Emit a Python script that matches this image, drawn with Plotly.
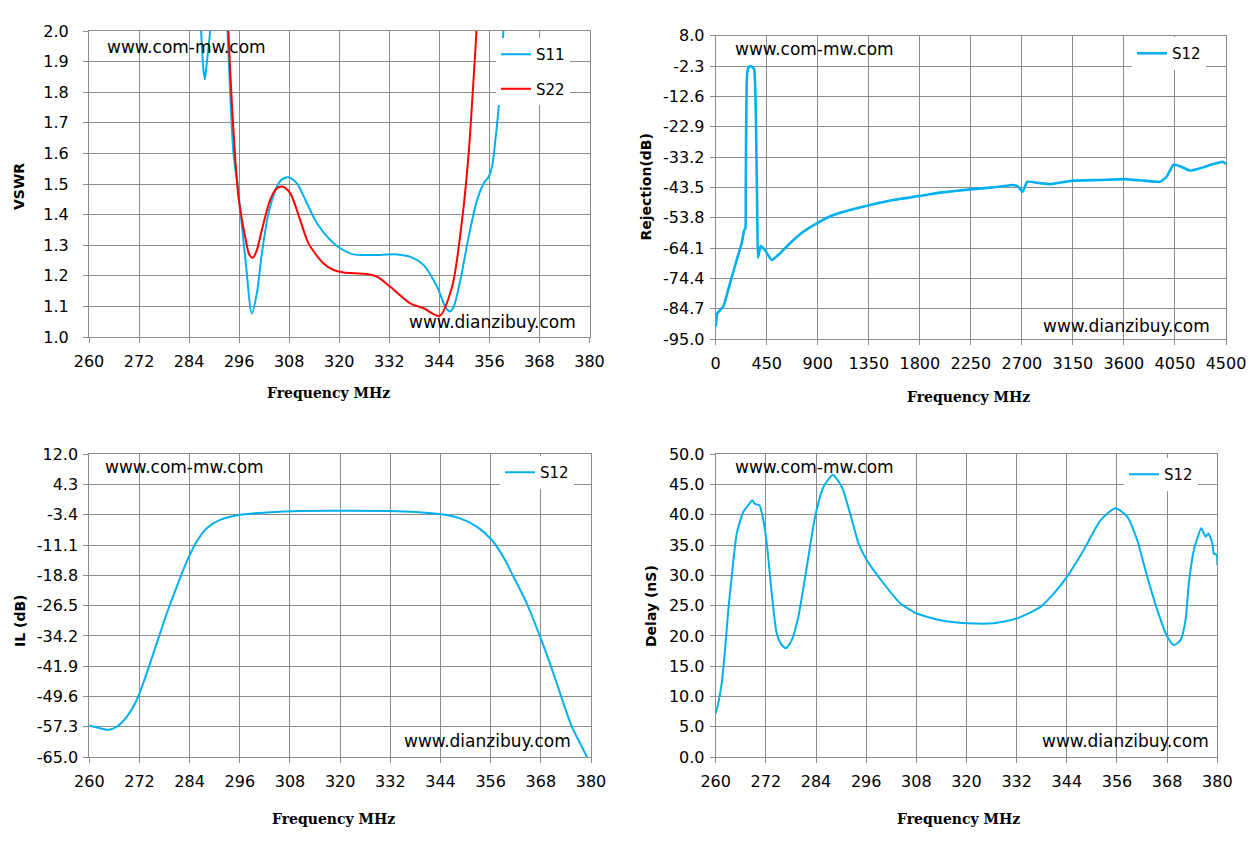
import plotly.graph_objects as go

# ---------------- data ----------------
# VSWR (top-left)
vswr_s11_freq = [285.9, 286.88, 287.4, 287.77, 288.2, 289.04, 290.0, 291.5, 292.4, 293.2,
                 294.63, 295.69, 297.6, 299.05, 300.25, 301.45, 303.03, 305.05, 306.25, 307.83,
                 309.85, 312.25, 314.65, 317.84, 320.24, 323.43, 328.23, 333.85, 337.04, 340.23,
                 343.45, 345.44, 346.47, 347.43, 349.04, 351.03, 353.05, 354.63, 355.83, 356.65,
                 357.44, 358.23, 359.36, 360.0]
vswr_s11 = [2.3, 2.0, 1.88, 1.842, 1.89, 2.0, 2.25, 2.35, 2.2, 2.0,
            1.60, 1.491, 1.24, 1.077, 1.143, 1.273, 1.404, 1.491, 1.515, 1.522,
            1.502, 1.437, 1.372, 1.317, 1.290, 1.270, 1.268, 1.270, 1.262, 1.235,
            1.164, 1.099, 1.083, 1.099, 1.186, 1.328, 1.448, 1.502, 1.524, 1.557,
            1.644, 1.753, 2.0, 2.2]
vswr_s22_freq = [292.3, 293.43, 293.84, 294.63, 295.83, 297.44, 298.47, 299.29, 300.25, 301.45,
                 303.44, 305.05, 306.49, 308.24, 310.64, 312.63, 316.23, 318.63, 321.03, 326.65,
                 329.05, 332.24, 337.04, 340.23, 344.07, 347.05, 349.45, 351.03, 352.09, 352.88,
                 353.6]
vswr_s22 = [2.35, 2.0, 1.873, 1.676, 1.458, 1.328, 1.268, 1.259, 1.284, 1.350,
            1.448, 1.486, 1.491, 1.470, 1.382, 1.306, 1.240, 1.219, 1.211, 1.206,
            1.197, 1.164, 1.110, 1.094, 1.069, 1.164, 1.382, 1.600, 1.818, 2.0,
            2.3]

# Rejection (top-right)
rej_freq = [0, 14, 38, 67, 126, 185, 229, 252, 262, 265, 267, 270, 273, 278, 287, 302, 317,
            332, 340, 348, 355, 367, 373, 397, 435, 494, 567, 655, 772, 891, 1037, 1184,
            1361, 1566, 1801, 1978, 2243, 2448, 2624, 2668, 2707, 2748, 2860, 2949, 3153,
            3389, 3594, 3771, 3918, 3977, 4035, 4094, 4182, 4271, 4388, 4471, 4500]
rej_db = [-90.8, -86.3, -85.2, -84.0, -76.1, -68.2, -62.5, -58.0, -57.5, -45.0, -31.9,
          -18.0, -9.3, -4.5, -3.1, -2.4, -2.5, -3.0, -3.6, -9.0, -20.6, -54.6, -67.4,
          -63.4, -64.8, -68.2, -65.9, -62.5, -58.6, -55.7, -52.9, -51.2, -49.5, -47.8,
          -46.4, -45.3, -44.2, -43.5, -42.7, -43.3, -45.0, -41.6, -42.1, -42.4, -41.2,
          -41.0, -40.7, -41.2, -41.6, -39.9, -35.9, -36.3, -37.8, -37.0, -35.6, -34.8,
          -35.6]

# Insertion loss (bottom-left)
il_freq = [260, 262.56, 264.55, 266.56, 268.95, 271.34, 273.73, 276.12, 278.52, 280.91,
           283.30, 285.69, 288.09, 291.27, 296.05, 302.44, 310.41, 319.98, 331.94, 338.33,
           343.90, 348.69, 352.68, 356.27, 359.04, 361.44, 364.64, 367.82, 371.00, 373.40,
           375.41, 377.39, 378.99, 380]
il_db = [-57.0, -57.7, -58.1, -57.3, -54.8, -50.5, -43.7, -36.1, -28.5, -21.7,
         -15.3, -10.2, -6.8, -4.7, -3.4, -2.8, -2.4, -2.35, -2.4, -2.7,
         -3.2, -4.3, -6.4, -9.8, -14.1, -19.1, -25.9, -34.4, -43.7, -51.3,
         -57.3, -61.5, -64.9, -67.0]

# Group delay (bottom-right)
dl_freq = [260, 260.62, 261.44, 262.23, 263.02, 263.83, 265.03, 266.61, 267.81, 268.77,
           269.41, 270.44, 271.40, 272.22, 273.41, 274.61, 275.81, 276.84, 278.20, 279.78,
           281.80, 283.78, 285.77, 288.02, 290.18, 292.17, 294.16, 296.17, 300.14, 304.14,
           308.14, 313.72, 320.12, 326.49, 332.10, 337.68, 340.86, 344.07, 348.05, 352.05,
           355.64, 358.44, 360.84, 363.23, 365.63, 368.02, 369.60, 371.21, 372.40, 373.19,
           374.39, 375.21, 376.17, 377.19, 377.84, 378.80, 379.18, 379.83, 380]
dl_ns = [7.2, 8.9, 12.2, 17.7, 24.3, 29.8, 36.9, 40.5, 41.6, 42.4,
         41.8, 41.6, 39.1, 35.3, 27.0, 20.4, 18.5, 18.0, 19.3, 23.2,
         31.4, 39.7, 44.6, 46.6, 44.6, 40.2, 35.3, 32.5, 28.7, 25.4,
         23.7, 22.6, 22.1, 22.1, 22.9, 24.8, 27.0, 29.8, 34.2, 39.1,
         41.1, 39.7, 35.8, 29.8, 24.3, 19.9, 18.5, 19.3, 22.6, 28.7,
         34.2, 36.1, 37.8, 36.4, 36.9, 35.3, 33.6, 33.4, 31.7]

# tick labels
freq_ticks = [260, 272, 284, 296, 308, 320, 332, 344, 356, 368, 380]
rej_x_ticks = [0, 450, 900, 1350, 1800, 2250, 2700, 3150, 3600, 4050, 4500]
vswr_ticks = [1.0, 1.1, 1.2, 1.3, 1.4, 1.5, 1.6, 1.7, 1.8, 1.9, 2.0]
rej_y_ticks = [8.0, -2.3, -12.6, -22.9, -33.2, -43.5, -53.8, -64.1, -74.4, -84.7, -95.0]
il_ticks = [12.0, 4.3, -3.4, -11.1, -18.8, -26.5, -34.2, -41.9, -49.6, -57.3, -65.0]
dl_ticks = [0.0, 5.0, 10.0, 15.0, 20.0, 25.0, 30.0, 35.0, 40.0, 45.0, 50.0]

# ---------------- style ----------------
W, H = 1255, 845
BLUE = "#00B0F0"
RED = "#FF0000"
GRID = "#8C8C8C"
TICKFONT = dict(family="DejaVu Sans", size=16, color="#000000")


def px_x(p):
    return p / W


def px_y(p):
    return 1 - p / H


fig = go.Figure()

fig.add_trace(go.Scatter(x=vswr_s11_freq, y=vswr_s11, name="S11", mode="lines",
                         line=dict(color=BLUE, width=2, shape="spline", smoothing=0.8),
                         xaxis="x", yaxis="y", legend="legend", legendgroup="a"))
fig.add_trace(go.Scatter(x=vswr_s22_freq, y=vswr_s22, name="S22", mode="lines",
                         line=dict(color=RED, width=2, shape="spline", smoothing=0.8),
                         xaxis="x", yaxis="y", legend="legend", legendgroup="b"))
fig.add_trace(go.Scatter(x=rej_freq, y=rej_db, name="S12", mode="lines",
                         line=dict(color=BLUE, width=2.6, shape="spline", smoothing=0.4),
                         xaxis="x2", yaxis="y2", legend="legend2"))
fig.add_trace(go.Scatter(x=il_freq, y=il_db, name="S12", mode="lines",
                         line=dict(color=BLUE, width=2, shape="spline", smoothing=0.8),
                         xaxis="x3", yaxis="y3", legend="legend3"))
fig.add_trace(go.Scatter(x=dl_freq, y=dl_ns, name="S12", mode="lines",
                         line=dict(color=BLUE, width=2, shape="spline", smoothing=0.6),
                         xaxis="x4", yaxis="y4", legend="legend4"))


def xax(domain, anchor, rng, ticks, texts):
    return dict(domain=domain, anchor=anchor, range=rng, tickmode="array",
                tickvals=ticks, ticktext=texts, showgrid=True, gridcolor=GRID,
                gridwidth=1, showline=True, linecolor=GRID, linewidth=1, mirror=True,
                ticks="outside", ticklen=5, tickcolor=GRID, tickfont=TICKFONT,
                zeroline=False, ticklabelstandoff=5, automargin=False)


def yax(domain, anchor, rng, ticks, texts, standoff=2):
    return dict(domain=domain, anchor=anchor, range=rng, tickmode="array",
                tickvals=ticks, ticktext=texts, showgrid=True, gridcolor=GRID,
                gridwidth=1, showline=True, linecolor=GRID, linewidth=1, mirror=True,
                ticks="outside", ticklen=5, tickcolor=GRID, tickfont=TICKFONT,
                zeroline=False, ticklabelstandoff=standoff, automargin=False)


fx = [str(v) for v in freq_ticks]
fig.update_layout(
    xaxis=xax([px_x(89), px_x(589.5)], "y", [260, 380], freq_ticks, fx),
    yaxis=yax([px_y(337), px_y(31)], "x", [1, 2], vswr_ticks,
              [f"{v:.1f}" for v in vswr_ticks], standoff=11),
    xaxis2=xax([px_x(715.7), px_x(1226)], "y2", [0, 4500], rej_x_ticks,
               [str(v) for v in rej_x_ticks]),
    yaxis2=yax([px_y(339), px_y(35.7)], "x2", [-95, 8], rej_y_ticks,
               [f"{v:.1f}" for v in rej_y_ticks]),
    xaxis3=xax([px_x(89.3), px_x(591)], "y3", [260, 380], freq_ticks, fx),
    yaxis3=yax([px_y(757), px_y(454.3)], "x3", [-65, 12], il_ticks,
               [f"{v:.1f}" for v in il_ticks]),
    xaxis4=xax([px_x(715.7), px_x(1217.3)], "y4", [260, 380], freq_ticks, fx),
    yaxis4=yax([px_y(757), px_y(454.3)], "x4", [0, 50], dl_ticks,
               [f"{v:.1f}" for v in dl_ticks]),
)

legend_common = dict(bgcolor="#FFFFFF", borderwidth=0, xanchor="left", yanchor="top",
                     font=dict(family="DejaVu Sans", size=15, color="#000000"),
                     itemwidth=30)
fig.update_layout(
    legend=dict(x=px_x(496), y=px_y(38), tracegroupgap=12, traceorder="grouped", **legend_common),
    legend2=dict(x=px_x(1132), y=px_y(37), **legend_common),
    legend3=dict(x=px_x(500), y=px_y(456), **legend_common),
    legend4=dict(x=px_x(1124), y=px_y(458), **legend_common),
)

annots = []
WM_FONT = dict(family="DejaVu Sans", size=17, color="#000000")
for (xl, yc) in [(105, 47), (733, 49), (103, 467), (733, 467)]:
    annots.append(dict(text="www.com-mw.com", x=px_x(xl), y=px_y(yc), xref="paper",
                       yref="paper", xanchor="left", yanchor="middle", showarrow=False,
                       font=WM_FONT))
for (xr, yc) in [(578, 322), (1212, 326), (573, 741), (1211, 741)]:
    annots.append(dict(text="www.dianzibuy.com", x=px_x(xr), y=px_y(yc), xref="paper",
                       yref="paper", xanchor="right", yanchor="middle", showarrow=False,
                       font=WM_FONT))
YT_FONT = dict(family="DejaVu Sans", size=14, color="#000000", weight="bold")
for (txt, xc, yc) in [("VSWR", 19, 187), ("Rejection(dB)", 645, 187.5),
                      ("IL (dB)", 20, 621), ("Delay (nS)", 651, 606)]:
    annots.append(dict(text=txt, x=px_x(xc), y=px_y(yc), xref="paper", yref="paper",
                       xanchor="center", yanchor="middle", textangle=-90,
                       showarrow=False, font=YT_FONT))
XT_FONT = dict(family="DejaVu Serif", size=14, color="#000000", weight="bold")
for (xc, yc) in [(328, 393), (968, 397), (333, 819), (958, 819)]:
    annots.append(dict(text="Frequency MHz", x=px_x(xc), y=px_y(yc), xref="paper",
                       yref="paper", xanchor="center", yanchor="middle",
                       showarrow=False, font=XT_FONT))

fig.update_layout(
    width=W, height=H, margin=dict(l=0, r=0, t=0, b=0, pad=0, autoexpand=False),
    paper_bgcolor="#FFFFFF", plot_bgcolor="#FFFFFF",
    annotations=annots, showlegend=True,
)

fig.write_html("out.html", config={"displayModeBar": False},
               post_script="document.body.style.margin='0';")
